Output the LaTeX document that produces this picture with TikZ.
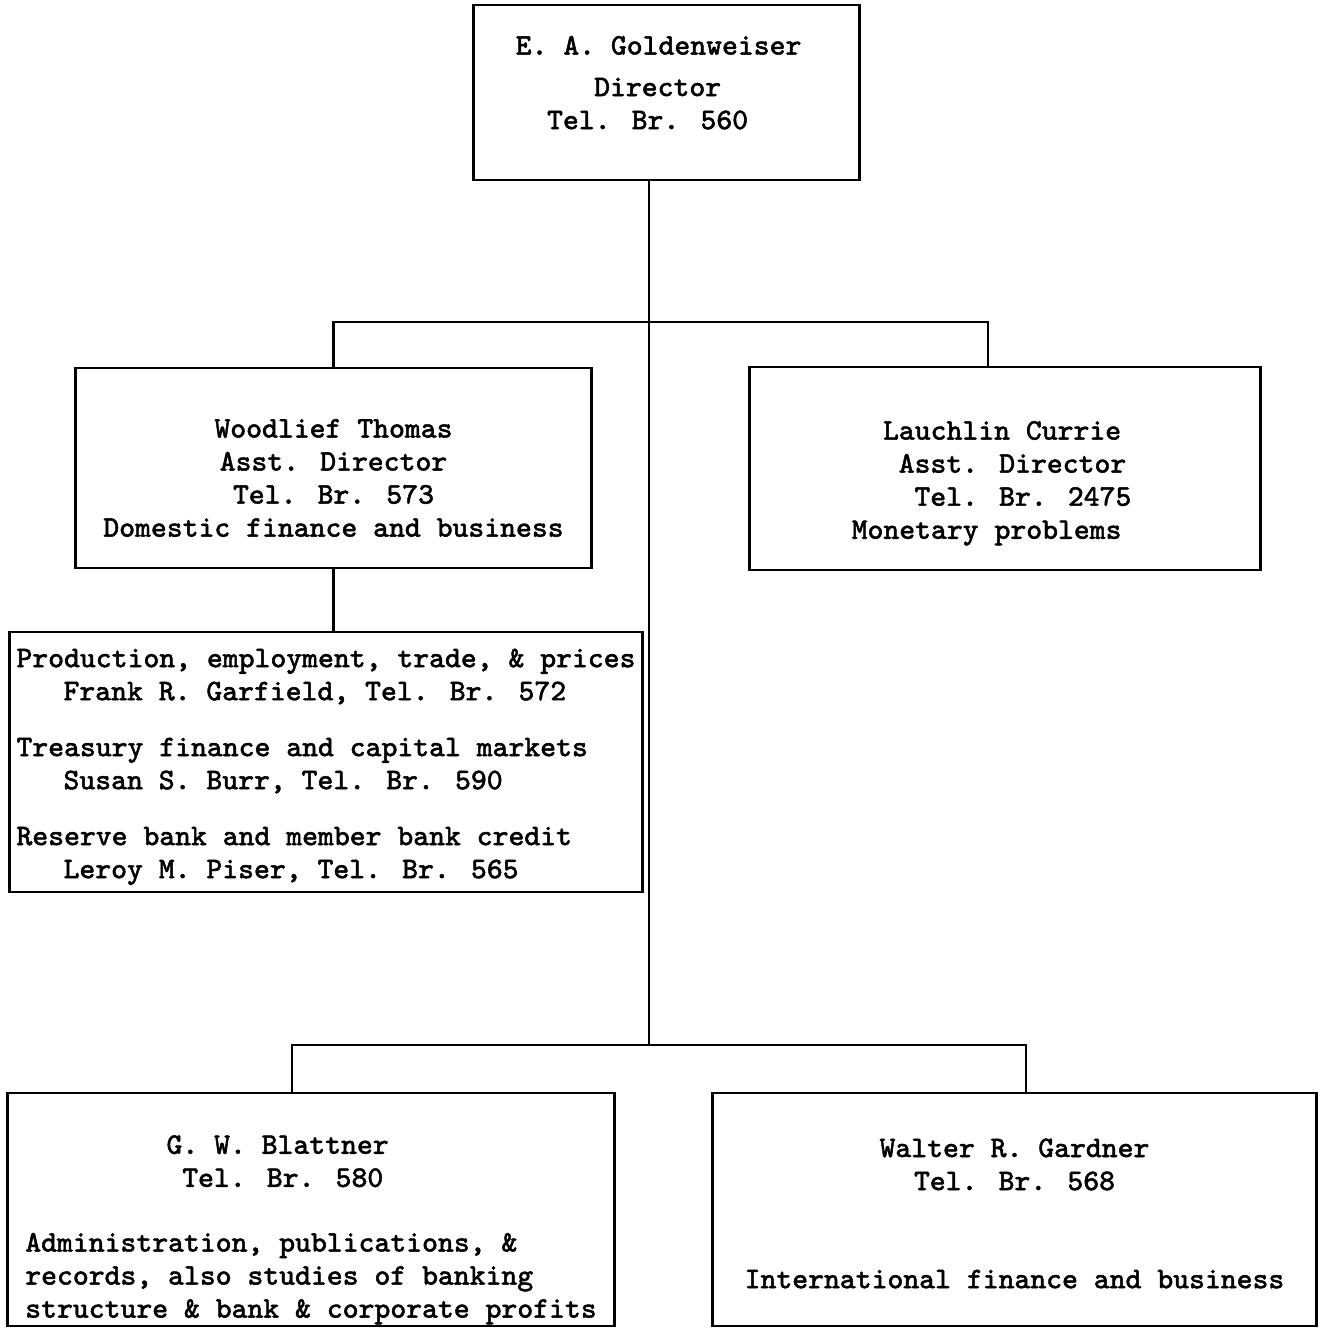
\documentclass[tikz,border=0pt]{standalone}
\usepackage{amsmath,amsfonts,amssymb}
\usepackage{fontspec}
\newfontfamily\typer{Latin Modern Mono}[FakeBold=1.6]
\newcommand{\topgap}[1]{\rule{0pt}{#1}}
\newcommand{\botgap}[1]{\rule[-#1]{0pt}{#1}}

\begin{document}
\begin{tikzpicture}[x=0.01cm, y=-0.01cm,
  unit/.style={rectangle, thick, draw, inner sep=2pt, align=center,
               font=\typer\fontsize{8.5}{9.4}\selectfont},
  link/.style={thick}]

\useasboundingbox (0,0) rectangle (1321,1330);

\node[unit, align=left, minimum width=3.85cm, minimum height=1.75cm] (boss) at (666.5,92.5)
      {E. A. Goldenweiser\hphantom{x}\\[2.4pt]
       \hspace*{2.625em}Director\\
       \hspace*{1.05em}Tel. Br. 560\botgap{5.7pt}};

\node[unit, minimum width=5.15cm, minimum height=2cm] (thomas) at (333.5,468)
      {\topgap{10.9pt}Woodlief Thomas\\ Asst. Director\\ Tel. Br. 573\\ Domestic finance and business};
\node[unit, align=left, minimum width=5.1cm, minimum height=2.03cm] (currie) at (1005,468.5)
      {\topgap{13.7pt}\hspace*{1.05em}Lauchlin Currie\\
       \hspace*{1.575em}Asst. Director\\
       \hspace*{2.1em}Tel. Br. 2475\\
       Monetary problems\hphantom{x}\hspace*{0.7em}};

\node[unit, align=left, minimum width=6.32cm, minimum height=2.6cm] (units) at (326,762)
      {\topgap{8pt}Production, employment, trade, \& prices\\
       \hspace*{1.575em}Frank R. Garfield, Tel. Br. 572\\[6.5pt]
       Treasury finance and capital markets\\
       \hspace*{1.575em}Susan S. Burr, Tel. Br. 590\\[6.5pt]
       Reserve bank and member bank credit\\
       \hspace*{1.575em}Leroy M. Piser, Tel. Br. 565};

\node[unit, align=left, inner ysep=0pt, minimum width=6.06cm, minimum height=2.33cm] (blattner) at (311,1209.5)
      {\topgap{16.8pt}\hspace*{4.725em}G. W. Blattner\\
       \hspace*{5.25em}Tel. Br. 580\\[9pt]
       Administration, publications, \&\\
       records, also studies of banking\\
       structure \& bank \& corporate profits};
\node[unit, minimum width=6.03cm, minimum height=2.33cm] (gardner) at (1014.5,1209.5)
      {\topgap{7.5pt}Walter R. Gardner\\ Tel. Br. 568\\[18.5pt] International finance and business};

\coordinate (fork) at (649,322);
\coordinate (trunk) at (649,1045);

\draw[link] (boss.south -| trunk) -- (trunk);
\draw[link] (thomas.north) |- (fork) -| ([xshift=-0.17cm]currie.north);
\draw[link] (thomas.south) -- (thomas.south |- units.north);
\draw[link] ([xshift=-0.19cm]blattner.north) |- (trunk) -| ([xshift=0.115cm]gardner.north);
\end{tikzpicture}
\end{document}
